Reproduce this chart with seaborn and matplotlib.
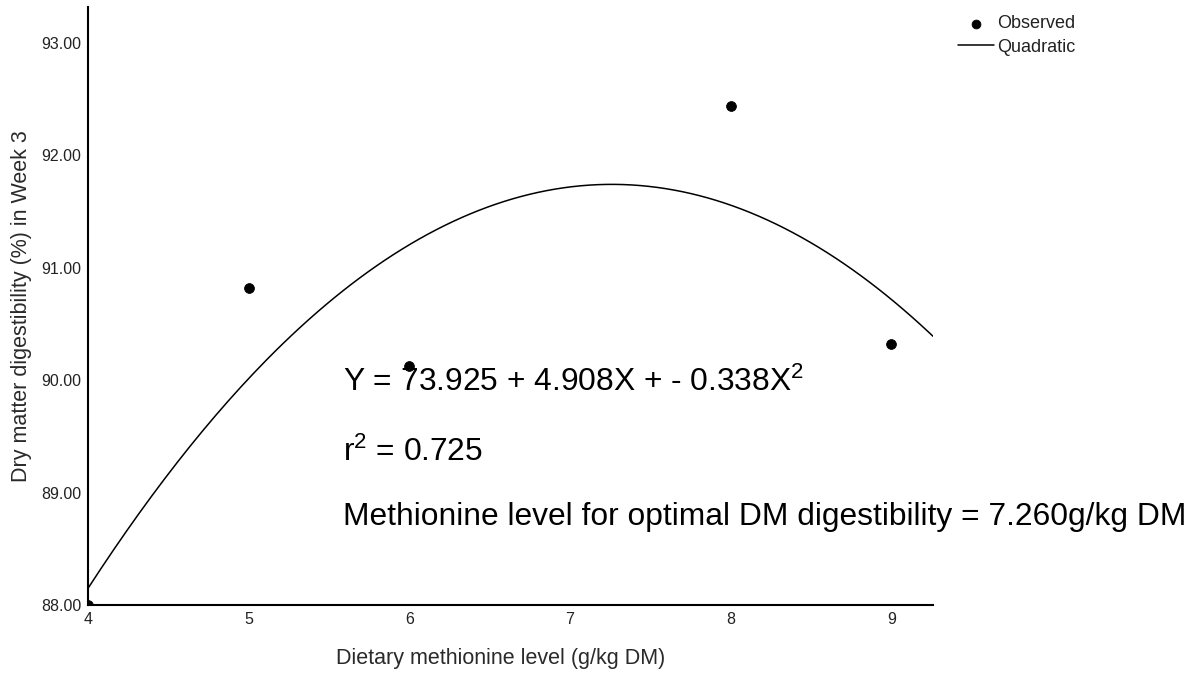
import numpy as np
import pandas as pd
import matplotlib
matplotlib.use("Agg")
import matplotlib.pyplot as plt
import seaborn as sns

# observed means
methionine = [4, 5, 6, 8, 9]
dm_digest = [88.0, 90.82, 90.13, 92.44, 90.32]

# quadratic fit coefficients (b0, b1, b2)
b0, b1, b2 = 73.925, 4.908, -0.338
x_min, x_max = 4.0, 9.26
x_ticks = [4, 5, 6, 7, 8, 9]
y_ticks = [88, 89, 90, 91, 92, 93]

annotations = [
    "Y = 73.925 + 4.908X + - 0.338X$^2$",
    "r$^2$ = 0.725",
    "Methionine level for optimal DM digestibility = 7.260g/kg DM",
]

sns.set_style("white")
plt.rcParams['font.family'] = ['Liberation Sans', 'DejaVu Sans']
plt.rcParams['mathtext.fontset'] = 'custom'
plt.rcParams['mathtext.rm'] = 'Liberation Sans'
plt.rcParams['mathtext.it'] = 'Liberation Sans:italic'
plt.rcParams['mathtext.bf'] = 'Liberation Sans:bold'

fig = plt.figure(figsize=(12.03, 6.84), dpi=100)
ax = fig.add_axes([0.0732, 0.1155, 0.7024, 0.8743])

obs = pd.DataFrame({"x": methionine, "y": dm_digest})
xs = np.linspace(x_min, x_max, 200)
fit = pd.DataFrame({"x": xs, "y": b0 + b1 * xs + b2 * xs ** 2})

sns.lineplot(data=fit, x="x", y="y", ax=ax, color="black", linewidth=1.1,
             label="Quadratic")
sns.scatterplot(data=obs, x="x", y="y", ax=ax, color="black", s=50,
                edgecolor="black", label="Observed", zorder=3)

ax.set_xlim(x_min, x_max)
ax.set_ylim(88.0, 93.32)
ax.set_xticks(x_ticks)
ax.set_yticks(y_ticks)
ax.set_yticklabels([f"{v:.2f}" for v in y_ticks])
ax.tick_params(axis="both", length=0, labelsize=11.5, colors="#222222")
ax.tick_params(axis="y", pad=5)
ax.tick_params(axis="x", pad=5)

sns.despine(ax=ax)
for s in ["left", "bottom"]:
    ax.spines[s].set_color("black")
    ax.spines[s].set_linewidth(1.5)

ax.set_xlabel("Dietary methionine level (g/kg DM)", fontsize=15.5, color="#2a2a2a")
ax.set_ylabel("Dry matter digestibility (%) in Week 3", fontsize=15.5, color="#2a2a2a")
ax.xaxis.set_label_coords(0.488, -0.072)
ax.yaxis.set_label_coords(-0.066, 0.5)

for txt, y in zip(annotations, [89.904, 89.281, 88.712]):
    ax.text(5.587, y, txt, fontsize=22.9, va="baseline", color="black", clip_on=False)

handles, labels = ax.get_legend_handles_labels()
order = [labels.index("Observed"), labels.index("Quadratic")]
leg = ax.legend([handles[i] for i in order], [labels[i] for i in order],
                loc="upper left", bbox_to_anchor=(0.790, 0.988), bbox_transform=fig.transFigure,
                frameon=False, fontsize=13, handlelength=2.0, handletextpad=0.2,
                labelspacing=0.35, borderaxespad=0, markerscale=0.9)
for t in leg.get_texts():
    t.set_color("#222222")

fig.savefig("out.png", dpi=100)
